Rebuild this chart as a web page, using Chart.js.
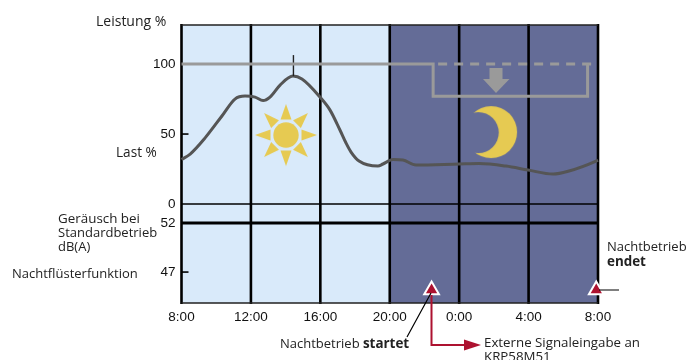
<!DOCTYPE html>
<html><head><meta charset="utf-8">
<style>html,body{margin:0;padding:0;background:#fff;overflow:hidden}#w{position:relative;width:692px;height:360px}</style>
<script src="https://cdn.jsdelivr.net/npm/chart.js@4/dist/chart.umd.js"></script>
</head><body><div id="w"><canvas id="c" width="692" height="360"></canvas></div>
<script>
const xTicks=[8,12,16,20,24,28,32];
const xTickLabels=['8:00','12:00','16:00','20:00','0:00','4:00','8:00'];
const yTicks=[100,50,0,-13.6,-48.6];
const yTickLabels=['100','50','0','52','47'];
const loadHours=[8,8.5,9.35,10.33,11.08,11.66,12.24,12.7,13.1,13.68,14.42,14.94,15.98,16.56,17.13,17.48,17.77,18.23,19.32,19.61,20.19,20.76,21.51,24,25.14,26.7,27.97,29.41,30.33,31.89,32];
const loadValues=[31.8,35.7,47.1,62.9,75,77.1,76.4,73.9,76.4,85,91.4,89.3,76.4,67.1,52.9,43.6,37.1,30.7,27.1,28.6,31.8,31.4,27.9,28.6,28.9,27.1,24.3,21.4,23.6,30.7,31.4];
const powerHours=[8,22.5,22.5,31.4,31.4];
const powerValues=[100,100,77,77,100];
const dashHours=[22.5,31.8];
const dashValues=[100,100];
const peakHours=[14.45,14.45];
const peakValues=[91.4,106.4];
const markerHours=[22.41,31.9];
const markerValues=[-61.5,-61.5];
const sunPos=[14.02,49.3];
const moonPos=[25.84,51.4];
const bands=[[8,20,'#d9eafa'],[20,32,'#646c97']];
const toXY=(xs,ys)=>xs.map((x,i)=>({x,y:ys[i]}));

function sunCanvas(){const c=document.createElement('canvas');c.width=c.height=70;const g=c.getContext('2d');g.translate(35,35);g.fillStyle='#e6ca52';
 g.beginPath();g.arc(0,0,12.7,0,7);g.fill();
 for(let i=0;i<8;i++){g.save();g.rotate(i*Math.PI/4);g.beginPath();g.moveTo(-5.5,-15.5);g.lineTo(5.5,-15.5);g.lineTo(0,-31);g.closePath();g.fill();g.restore();}
 return c;}
function moonCanvas(){const c=document.createElement('canvas');c.width=c.height=70;const g=c.getContext('2d');g.fillStyle='#e6ca52';
 g.beginPath();g.arc(35,35,26,0,7);g.fill();
 g.globalCompositeOperation='destination-out';g.beginPath();g.arc(22.2,35.5,20.5,0,7);g.fill();
 return c;}

const txt=[
 ['Leistung %',96,22,14],['Last %',116,153,13.6],['Geräusch bei',58,219,13.4],['Standardbetrieb',58,233.5,13],['dB(A)',58,247,13],
 ['Nachtflüsterfunktion',12,274,13],['Nachtbetrieb',607,247,13],['Externe Signaleingabe an',484,343,13.3],['KRP58M51',484,357,13.3]
];
const deco={id:'deco',
 beforeDatasetsDraw(ch){const g=ch.ctx,X=ch.scales.x,a=ch.chartArea;g.save();
  bands.forEach(b=>{g.fillStyle=b[2];const l=X.getPixelForValue(b[0]),r=X.getPixelForValue(b[1]);g.fillRect(l,a.top,r-l,a.bottom-a.top);});
  g.restore();
  g.save();g.strokeStyle='#000';
  xTicks.forEach(v=>{const p=X.getPixelForValue(v);g.lineWidth=2.6;g.beginPath();g.moveTo(p,a.top-1);g.lineTo(p,a.bottom+1);g.stroke();});
  [[0,1.6],[-13.6,3]].forEach(([v,w])=>{const p=ch.scales.y.getPixelForValue(v);g.lineWidth=w;g.beginPath();g.moveTo(a.left,p);g.lineTo(a.right,p);g.stroke();});
  [50,-48.6].forEach(v=>{const p=ch.scales.y.getPixelForValue(v);g.lineWidth=1.6;g.beginPath();g.moveTo(a.left,p);g.lineTo(a.left+7,p);g.stroke();});
  g.lineWidth=1.6;g.strokeStyle='#222';g.beginPath();g.moveTo(a.left,a.top);g.lineTo(a.right,a.top);g.moveTo(a.left,a.bottom);g.lineTo(a.right,a.bottom);g.stroke();
  g.restore();
  g.save();g.fillStyle='#9a9a9a';g.beginPath();g.moveTo(489.5,68);g.lineTo(502.5,68);g.lineTo(502.5,79);g.lineTo(509.5,79);g.lineTo(496,93);g.lineTo(483,79);g.lineTo(489.5,79);g.closePath();g.fill();g.restore();
 },
 afterDraw(ch){const g=ch.ctx;g.save();g.textBaseline='middle';g.textAlign='left';g.fillStyle='#222';
  const F='"Open Sans"';
  txt.forEach(t=>{g.font=t[3]+'px '+F;g.fillText(t[0],t[1],t[2]);});
  g.font='13px '+F;
  g.fillText('Nachtbetrieb ',280,344);const w=g.measureText('Nachtbetrieb ').width;
  g.font='bold 13.4px '+F;g.fillText('startet',280+w,344);g.fillText('endet',607,262);
  g.strokeStyle='#000';g.lineWidth=1.2;g.beginPath();g.moveTo(431,293);g.lineTo(407,337);g.moveTo(599,290);g.lineTo(619,290);g.stroke();
  g.strokeStyle='#ad1230';g.fillStyle='#ad1230';g.lineWidth=2;g.beginPath();g.moveTo(431.5,295);g.lineTo(431.5,345);g.lineTo(468,345);g.stroke();
  g.beginPath();g.moveTo(464,339.5);g.lineTo(481,345);g.lineTo(464,350.5);g.closePath();g.fill();
  g.restore();}
};
const line=(data,color,w,extra)=>Object.assign({type:'line',data,borderColor:color,borderWidth:w,pointRadius:0,fill:false,clip:false},extra||{});
new Chart(document.getElementById('c'),{
 type:'line',plugins:[deco],
 data:{datasets:[
  line(toXY(powerHours,powerValues),'#9a9a9a',3,{borderJoinStyle:'miter'}),
  line(toXY(dashHours,dashValues),'#9a9a9a',3,{borderDash:[9,7],borderDashOffset:11}),
  line(toXY(peakHours,peakValues),'#222',1.4),
  line(toXY(loadHours,loadValues),'#555',3,{cubicInterpolationMode:'monotone'}),
  {type:'scatter',data:[{x:sunPos[0],y:sunPos[1]}],pointStyle:sunCanvas(),pointRadius:35,clip:false},
  {type:'scatter',data:[{x:moonPos[0],y:moonPos[1]}],pointStyle:moonCanvas(),pointRadius:35,clip:false},
  {type:'scatter',data:toXY(markerHours,markerValues),pointStyle:'triangle',pointRadius:8.5,backgroundColor:'#ad1230',borderColor:'#fff',borderWidth:2,clip:false}
 ]},
 options:{responsive:false,animation:false,events:[],
  layout:{autoPadding:false,padding:{top:25,right:94,left:0,bottom:0}},
  plugins:{legend:{display:false},tooltip:{enabled:false}},
  scales:{
   x:{type:'linear',min:8,max:32,border:{display:false},grid:{display:false,drawTicks:false},
    afterBuildTicks:s=>{s.ticks=xTicks.map(value=>({value}));},
    afterFit:s=>{s.height=57;},
    ticks:{autoSkip:false,maxRotation:0,padding:6,color:'#111',font:{family:'"Liberation Sans"',size:13.5},
     callback:v=>xTickLabels[xTicks.indexOf(v)]}},
   y:{type:'linear',min:-70.7,max:127.9,border:{display:false},grid:{display:false,drawTicks:false},
    afterBuildTicks:s=>{s.ticks=yTicks.map(value=>({value}));},
    afterFit:s=>{s.width=181.5;},
    ticks:{autoSkip:false,padding:6,color:'#111',font:{family:'"Liberation Sans"',size:13.5},
     callback:v=>yTickLabels[yTicks.indexOf(v)]}}
  }}
});
</script></body></html>
